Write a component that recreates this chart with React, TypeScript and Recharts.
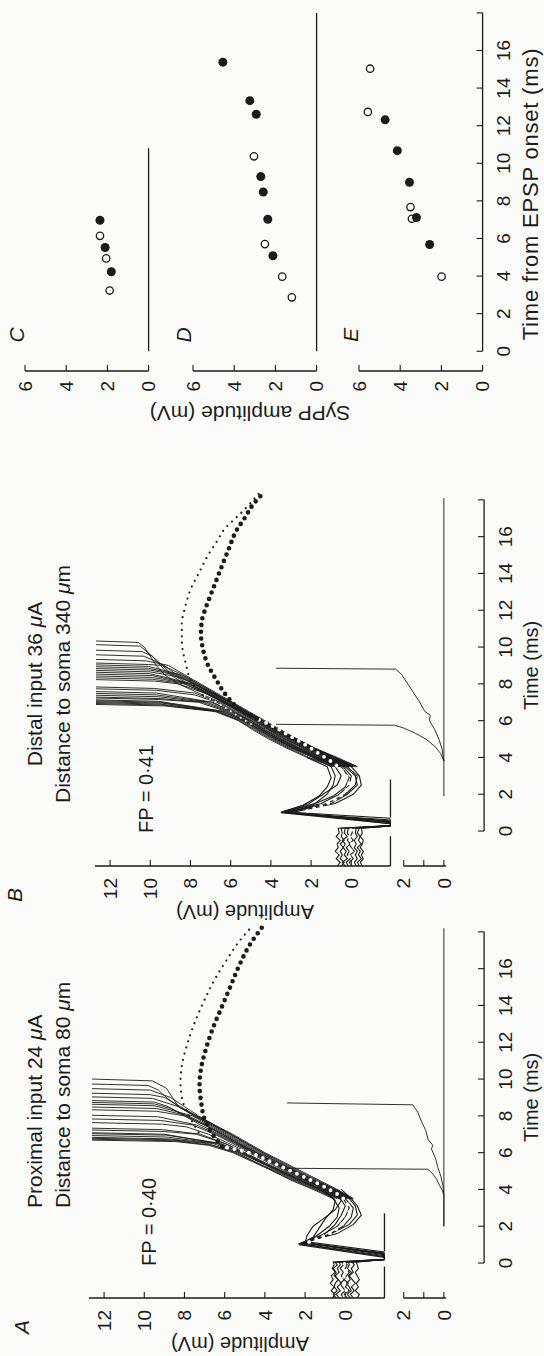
import React from "react";
import { ComposedChart, Line, Scatter, XAxis, YAxis, ReferenceLine } from "recharts";

type Pt = [number, number];

// ---------- A: proximal input ----------
const A_EARLY: Pt[][] = [
  [[-1.9,0.3],[-1.7,0.45],[-1.5,0.25],[-1.3,0.4],[-1.1,0.2],[-0.9,0.35],[-0.7,0.5],[-0.5,0.3],[-0.3,0.4],[-0.1,0.25],[0.05,0.3],[0.18,-1.95],[0.35,-1.95],[1.05,2.3],[1.5,1.2],[2,0.4],[2.5,0],[3,-0.2],[3.5,0.1],[4,0.9]],
  [[-1.9,-0.4],[-1.7,-0.25],[-1.5,-0.45],[-1.3,-0.3],[-1.1,-0.5],[-0.9,-0.35],[-0.7,-0.2],[-0.5,-0.4],[-0.3,-0.3],[-0.1,-0.45],[0.05,-0.35],[0.2,-1.95],[0.45,-1.95],[1.1,2.1],[1.5,1.4],[2,0.8],[2.5,0.4],[3,0.3],[3.5,0.6],[4,1.3]],
  [[-1.9,0.65],[-1.7,0.5],[-1.5,0.7],[-1.3,0.55],[-1.1,0.75],[-0.9,0.6],[-0.7,0.7],[-0.5,0.5],[-0.3,0.65],[-0.1,0.55],[0.05,0.6],[0.2,-1.95],[0.5,-1.95],[1.1,2],[1.6,0.7],[2.1,-0.2],[2.6,-0.6],[3.1,-0.5],[3.5,-0.2],[4,0.4]],
  [[-1.9,-0.1],[-1.7,0.05],[-1.5,-0.2],[-1.3,0],[-1.1,-0.15],[-0.9,0.05],[-0.7,-0.05],[-0.5,-0.2],[-0.3,0],[-0.1,-0.1],[0.05,0],[0.18,-1.95],[0.6,-1.95],[1.15,1.9],[1.6,1],[2.1,0.5],[2.6,0.2],[3.1,0],[3.6,0.3],[4,0.8]],
  [[-1.9,0.1],[-1.7,0.2],[-1.5,0],[-1.3,0.15],[-1.1,0.25],[-0.9,0.05],[-0.7,0.2],[-0.5,0.1],[-0.3,0.25],[-0.1,0.1],[0.05,0.15],[0.2,-1.95],[0.4,-1.95],[1.05,2.2],[1.4,1.6],[1.9,1.3],[2.4,1],[2.9,0.6],[3.4,0.5],[4,1.1]],
  [[-1.9,-0.6],[-1.7,-0.7],[-1.5,-0.5],[-1.3,-0.65],[-1.1,-0.55],[-0.9,-0.7],[-0.7,-0.6],[-0.5,-0.5],[-0.3,-0.65],[-0.1,-0.6],[0.05,-0.55],[0.2,-1.95],[0.55,-1.95],[1.1,2.2],[1.6,0.4],[2.1,-0.4],[2.6,-0.8],[3.1,-0.6],[3.5,-0.3],[4,0.2]],
  [[-1.9,0.45],[-1.7,0.6],[-1.5,0.4],[-1.3,0.55],[-1.1,0.5],[-0.9,0.35],[-0.7,0.55],[-0.5,0.45],[-0.3,0.6],[-0.1,0.4],[0.05,0.5],[0.2,-1.95],[0.5,-1.95],[1.1,2],[1.5,1.9],[2,1.6],[2.4,1.1],[2.9,0.5],[3.4,0.2],[4,0.7]],
  [[-1.9,-0.25],[-1.7,-0.1],[-1.5,-0.3],[-1.3,-0.2],[-1.1,-0.05],[-0.9,-0.25],[-0.7,-0.15],[-0.5,-0.3],[-0.3,-0.1],[-0.1,-0.2],[0.05,-0.15],[0.18,-1.95],[0.3,-1.95],[1,2.3],[1.5,0.9],[2,0.1],[2.5,-0.3],[3,-0.4],[3.5,0],[4,0.6]],
];

const A_LATE: Pt[][] = [
  [[3.5,0.5],[4,1.5],[4.5,2.6],[5,3.6],[5.5,4.6],[6,5.6],[6.4,6.8],[6.6,8.4],[6.68,12.6]],
  [[3.5,0.3],[4,1.4],[4.5,2.5],[5,3.5],[5.5,4.5],[6,5.5],[6.4,6.6],[6.65,8.6],[6.73,12.6]],
  [[3.5,0.6],[4,1.6],[4.5,2.7],[5,3.6],[5.5,4.5],[6,5.4],[6.5,6.9],[6.7,8.7],[6.78,12.6]],
  [[3.5,0.2],[4,1.2],[4.5,2.3],[5,3.3],[5.5,4.3],[6,5.3],[6.5,6.6],[6.75,8.8],[6.83,12.6]],
  [[3.5,0.4],[4,1.3],[4.5,2.4],[5,3.4],[5.5,4.3],[6,5.2],[6.5,6.4],[6.85,8.9],[6.93,12.6]],
  [[3.5,0.1],[4,1.1],[4.5,2.2],[5,3.2],[5.5,4.2],[6,5.1],[6.5,6.2],[6.95,8.9],[7.03,12.6]],
  [[3.5,0.3],[4,1.3],[4.5,2.3],[5,3.3],[5.5,4.2],[6,5.2],[6.5,6.3],[7,9],[7.08,12.6]],
  [[3.5,0],[4,1],[4.5,2.1],[5,3.1],[5.5,4.1],[6,5],[6.5,6],[7,7.4],[7.15,9],[7.23,12.6]],
  [[3.5,0.2],[4,1.2],[4.5,2.2],[5,3.2],[5.5,4.1],[6,5],[6.5,6],[7,7.2],[7.25,9.1],[7.33,12.6]],
  [[3.5,-0.1],[4,0.9],[4.5,2],[5,3],[5.5,3.9],[6,4.8],[6.5,5.8],[7,6.8],[7.4,7.9],[7.55,9.1],[7.63,12.6]],
  [[3.5,0.1],[4,1],[4.5,2],[5,2.9],[5.5,3.8],[6,4.7],[6.5,5.6],[7,6.5],[7.5,7.6],[7.75,9.2],[7.83,12.6]],
  [[3.5,-0.2],[4,0.7],[4.5,1.8],[5,2.8],[5.5,3.7],[6,4.6],[6.5,5.5],[7,6.4],[7.5,7.4],[7.95,9.3],[8.03,12.6]],
  [[3.5,0],[4,0.9],[4.5,1.9],[5,2.8],[5.5,3.7],[6,4.6],[6.5,5.4],[7,6.2],[7.5,7],[8,8],[8.25,9.4],[8.33,12.6]],
  [[3.5,-0.3],[4,0.6],[4.5,1.7],[5,2.6],[5.5,3.6],[6,4.5],[6.5,5.3],[7,6.1],[7.5,6.9],[8,7.8],[8.4,9.4],[8.48,12.6]],
  [[3.5,0.1],[4,1],[4.5,1.9],[5,2.8],[5.5,3.6],[6,4.4],[6.5,5.2],[7,6],[7.5,6.8],[8,7.6],[8.55,9.5],[8.63,12.6]],
  [[3.5,-0.2],[4,0.7],[4.5,1.6],[5,2.6],[5.5,3.5],[6,4.4],[6.5,5.3],[7,6.1],[7.5,7],[8,7.9],[8.4,8.7],[8.65,9.5],[8.73,12.6]],
  [[3.5,0],[4,0.8],[4.5,1.8],[5,2.7],[5.5,3.6],[6,4.5],[6.5,5.4],[7,6.3],[7.5,7.2],[8,8],[8.5,8.8],[8.75,9.5],[8.83,12.6]],
  [[3.5,-0.4],[4,0.5],[4.5,1.5],[5,2.5],[5.5,3.4],[6,4.3],[6.5,5.1],[7,5.9],[7.5,6.7],[8,7.5],[8.5,8.3],[8.95,9.6],[9.03,12.6]],
  [[3.5,-0.1],[4,0.7],[4.5,1.6],[5,2.5],[5.5,3.4],[6,4.2],[6.5,5],[7,5.8],[7.5,6.6],[8,7.4],[8.5,8.2],[9,9],[9.15,9.7],[9.23,12.6]],
  [[3.5,-0.3],[4,0.5],[4.5,1.4],[5,2.3],[5.5,3.2],[6,4.1],[6.5,4.9],[7,5.7],[7.5,6.5],[8,7.3],[8.5,8],[9,8.7],[9.4,9.7],[9.48,12.6]],
  [[3.5,-0.2],[4,0.6],[4.5,1.5],[5,2.4],[5.5,3.3],[6,4.1],[6.5,4.9],[7,5.7],[7.5,6.6],[8,7.5],[8.5,8.3],[9,8.9],[9.4,9.3],[9.65,9.8],[9.73,12.6]],
  [[3.5,-0.4],[4,0.4],[4.5,1.3],[5,2.2],[5.5,3.1],[6,4],[6.5,4.8],[7,5.6],[7.5,6.5],[8,7.4],[8.5,8.3],[9,8.6],[9.5,8.9],[9.9,9.6],[10,12.6]],
];

const A_MEAN_BASE: Pt[] = [[-1.85,0.05],[-1.4,-0.05],[-0.9,0.1],[-0.4,-0.05],[0,0.05]];
const A_MEAN_EARLY: Pt[] = [[1.15,1.8],[1.6,0.8],[2.2,0.1],[2.8,-0.2],[3.4,0],[4,0.8],[4.5,1.7],[5,2.7],[5.5,3.7],[6,4.8],[6.33,6.1]];
const A_MEAN_LATE: Pt[] = [[6.33,6.13],[7.07,6.65],[7.81,7],[8.74,7.17],[9.67,7.25],[10.6,7.17],[11.72,6.91],[12.84,6.56],[13.95,6.13],[15.07,5.7],[16.19,5.27],[17.3,4.75],[18.23,4.15]];
const A_SMALL: Pt[] = [[7.1,7.3],[8,7.77],[8.93,8.12],[9.86,8.2],[10.79,8.12],[11.9,7.86],[13.02,7.51],[14.33,6.99],[15.44,6.48],[16.37,5.96],[17.49,5.27],[18.23,4.7]];
const A_LOWER: Pt[][] = [
  [[2,0],[3.7,0],[4.2,0.05],[4.7,0.15],[5.2,0.3],[5.7,0.42],[6.2,0.62],[6.4,0.55],[6.7,0.78],[7.2,0.9],[7.7,1.12],[8.2,1.3],[8.6,1.55],[8.7,7.8]],
  [[3.7,0],[4,0.1],[4.3,0.25],[4.6,0.38],[4.9,0.6],[5.1,0.8],[5.15,7.8]],
];
const A_LOWER_BASE: Pt[] = [[2,0],[18.2,0]];
const A_STIM: Pt[] = [[-1.9,-0.19],[0.65,2.7]];

// ---------- B: distal input ----------
const B_EARLY: Pt[][] = [
  [[-1.9,0.3],[-1.7,0.45],[-1.5,0.2],[-1.3,0.35],[-1.1,0.25],[-0.9,0.4],[-0.7,0.3],[-0.5,0.45],[-0.3,0.2],[-0.1,0.35],[0.15,0.3],[0.28,-1.95],[0.4,-1.95],[1,3.5],[1.4,2],[1.9,0.9],[2.4,0.3],[2.9,0.1],[3.5,0.5],[4,1.5]],
  [[-1.9,-0.4],[-1.7,-0.3],[-1.5,-0.5],[-1.3,-0.35],[-1.1,-0.45],[-0.9,-0.3],[-0.7,-0.5],[-0.5,-0.35],[-0.3,-0.45],[-0.1,-0.3],[0.15,-0.4],[0.28,-1.95],[0.5,-1.95],[1.02,3.3],[1.5,1.2],[2,0.3],[2.5,-0.2],[3,-0.3],[3.5,0.2],[4,1.1]],
  [[-1.9,0.7],[-1.7,0.55],[-1.5,0.75],[-1.3,0.6],[-1.1,0.8],[-0.9,0.65],[-0.7,0.7],[-0.5,0.55],[-0.3,0.75],[-0.1,0.6],[0.15,0.65],[0.3,-1.95],[0.7,-1.95],[1.05,3.4],[1.5,1.8],[2,1.2],[2.5,0.9],[3,0.8],[3.5,1],[4,1.9]],
  [[-1.9,-0.05],[-1.7,0.1],[-1.5,-0.1],[-1.3,0.05],[-1.1,-0.15],[-0.9,0],[-0.7,0.1],[-0.5,-0.1],[-0.3,0.05],[-0.1,-0.05],[0.15,0],[0.28,-1.95],[0.45,-1.95],[1,3.2],[1.5,1.5],[2,0.6],[2.5,0.1],[3,0],[3.5,0.4],[4,1.4]],
  [[-1.9,0.15],[-1.7,0.25],[-1.5,0.05],[-1.3,0.2],[-1.1,0.1],[-0.9,0.25],[-0.7,0.05],[-0.5,0.2],[-0.3,0.1],[-0.1,0.2],[0.15,0.15],[0.3,-1.95],[0.6,-1.95],[1.02,3.5],[1.4,2.4],[1.9,1.6],[2.4,1.2],[2.9,1],[3.5,1.2],[4,2.2]],
  [[-1.9,-0.55],[-1.7,-0.45],[-1.5,-0.6],[-1.3,-0.5],[-1.1,-0.6],[-0.9,-0.45],[-0.7,-0.55],[-0.5,-0.6],[-0.3,-0.45],[-0.1,-0.55],[0.15,-0.5],[0.28,-1.95],[0.5,-1.95],[1,3],[1.5,0.8],[2,-0.1],[2.5,-0.5],[3,-0.4],[3.5,0],[4,0.8]],
  [[-1.9,0.5],[-1.7,0.35],[-1.5,0.55],[-1.3,0.45],[-1.1,0.55],[-0.9,0.4],[-0.7,0.55],[-0.5,0.35],[-0.3,0.5],[-0.1,0.45],[0.15,0.5],[0.28,-1.95],[0.4,-1.95],[1.05,3.4],[1.5,2.1],[2,1.4],[2.5,0.7],[3,0.5],[3.5,0.8],[4,1.7]],
  [[-1.9,-0.25],[-1.7,-0.15],[-1.5,-0.3],[-1.3,-0.2],[-1.1,-0.3],[-0.9,-0.15],[-0.7,-0.25],[-0.5,-0.15],[-0.3,-0.3],[-0.1,-0.2],[0.15,-0.25],[0.3,-1.95],[0.55,-1.95],[1,3.3],[1.5,1],[2,0.2],[2.5,-0.3],[3,-0.2],[3.5,0.3],[4,1.2]],
];

const B_LATE: Pt[][] = [
  [[3.5,0.8],[4,2.1],[4.5,3.1],[5,4],[5.5,4.8],[6,5.6],[6.5,6.8],[6.8,9.3],[6.88,12.7]],
  [[3.5,0.6],[4,1.9],[4.5,3],[5,3.9],[5.5,4.7],[6,5.5],[6.5,6.7],[6.85,9.4],[6.93,12.7]],
  [[3.5,0.9],[4,2.2],[4.5,3.2],[5,4.1],[5.5,4.9],[6,5.6],[6.5,6.6],[6.9,9.5],[6.98,12.7]],
  [[3.5,0.4],[4,1.7],[4.5,2.8],[5,3.8],[5.5,4.6],[6,5.4],[6.5,6.5],[6.95,9.4],[7.03,12.7]],
  [[3.5,0.7],[4,1.9],[4.5,2.9],[5,3.8],[5.5,4.6],[6,5.4],[6.5,6.4],[7,9.5],[7.08,12.7]],
  [[3.5,0.5],[4,1.8],[4.5,2.8],[5,3.7],[5.5,4.5],[6,5.3],[6.5,6.3],[7.05,9.6],[7.13,12.7]],
  [[3.5,0.3],[4,1.6],[4.5,2.7],[5,3.6],[5.5,4.5],[6,5.3],[6.5,6.2],[7,7.6],[7.15,9.6],[7.23,12.7]],
  [[3.5,0.6],[4,1.8],[4.5,2.9],[5,3.7],[5.5,4.4],[6,5.2],[6.5,6.1],[7,7.4],[7.2,9.5],[7.28,12.7]],
  [[3.5,0.2],[4,1.5],[4.5,2.6],[5,3.5],[5.5,4.3],[6,5.1],[6.5,6],[7,7.2],[7.3,9.6],[7.38,12.7]],
  [[3.5,0.5],[4,1.7],[4.5,2.7],[5,3.6],[5.5,4.4],[6,5.1],[6.5,5.9],[7,7],[7.4,9.7],[7.48,12.7]],
  [[3.5,0.1],[4,1.4],[4.5,2.5],[5,3.4],[5.5,4.2],[6,5],[6.5,5.9],[7,6.9],[7.5,9.7],[7.58,12.7]],
  [[3.5,0.4],[4,1.5],[4.5,2.6],[5,3.5],[5.5,4.3],[6,5],[6.5,5.8],[7,6.7],[7.4,7.8],[7.65,9.7],[7.73,12.7]],
  [[3.5,0],[4,1.2],[4.5,2.3],[5,3.3],[5.5,4.1],[6,4.9],[6.5,5.7],[7,6.6],[7.5,7.8],[7.75,9.8],[7.83,12.7]],
  [[3.5,0.3],[4,1.4],[4.5,2.4],[5,3.3],[5.5,4.1],[6,4.8],[6.5,5.6],[7,6.4],[7.5,7.3],[8,8.6],[8.15,9.8],[8.23,12.7]],
  [[3.5,-0.1],[4,1.1],[4.5,2.2],[5,3.1],[5.5,4],[6,4.8],[6.5,5.6],[7,6.4],[7.5,7.2],[8,8.3],[8.25,9.9],[8.33,12.7]],
  [[3.5,0.2],[4,1.3],[4.5,2.3],[5,3.2],[5.5,4],[6,4.7],[6.5,5.5],[7,6.3],[7.5,7.1],[8,8.1],[8.35,9.9],[8.43,12.7]],
  [[3.5,0],[4,1],[4.5,2.1],[5,3],[5.5,3.9],[6,4.7],[6.5,5.5],[7,6.3],[7.5,7.1],[8,8],[8.45,9.9],[8.53,12.7]],
  [[3.5,0.3],[4,1.2],[4.5,2.2],[5,3.1],[5.5,3.9],[6,4.6],[6.5,5.4],[7,6.2],[7.5,7],[8,7.9],[8.55,10],[8.63,12.7]],
  [[3.5,-0.2],[4,0.9],[4.5,2],[5,2.9],[5.5,3.8],[6,4.6],[6.5,5.4],[7,6.2],[7.5,7],[8,7.8],[8.4,8.7],[8.65,10],[8.73,12.7]],
  [[3.5,0.1],[4,1.1],[4.5,2.1],[5,3],[5.5,3.8],[6,4.5],[6.5,5.3],[7,6.1],[7.5,6.9],[8,7.8],[8.5,8.8],[8.75,10],[8.83,12.7]],
  [[3.5,-0.3],[4,0.8],[4.5,1.9],[5,2.8],[5.5,3.7],[6,4.5],[6.5,5.3],[7,6.1],[7.5,6.9],[8,7.7],[8.5,8.6],[8.85,10.1],[8.93,12.7]],
  [[3.5,0],[4,1],[4.5,2],[5,2.9],[5.5,3.7],[6,4.4],[6.5,5.2],[7,6],[7.5,6.8],[8,7.6],[8.5,8.5],[8.95,10.1],[9.03,12.7]],
  [[3.5,-0.2],[4,0.9],[4.5,1.9],[5,2.8],[5.5,3.6],[6,4.4],[6.5,5.2],[7,6],[7.5,6.8],[8,7.6],[8.5,8.4],[9,9.4],[9.05,10.1],[9.13,12.7]],
  [[3.5,0.1],[4,1],[4.5,1.9],[5,2.7],[5.5,3.5],[6,4.3],[6.5,5.1],[7,5.9],[7.5,6.7],[8,7.5],[8.5,8.3],[9,9.1],[9.25,10.2],[9.33,12.7]],
  [[3.5,-0.3],[4,0.7],[4.5,1.8],[5,2.7],[5.5,3.6],[6,4.4],[6.5,5.2],[7,6],[7.5,6.9],[8,7.8],[8.5,8.7],[9,9.3],[9.5,10.3],[9.58,12.7]],
  [[3.5,0],[4,0.9],[4.5,1.9],[5,2.8],[5.5,3.7],[6,4.5],[6.5,5.4],[7,6.3],[7.5,7.2],[8,8.1],[8.5,8.9],[9,9.4],[9.5,9.9],[9.75,10.4],[9.83,12.7]],
  [[3.5,-0.1],[4,0.8],[4.5,1.8],[5,2.7],[5.5,3.6],[6,4.5],[6.5,5.4],[7,6.3],[7.5,7.3],[8,8.3],[8.5,9],[9,9.5],[9.5,9.9],[10.05,10.5],[10.13,12.7]],
  [[3.5,0.2],[4,1.1],[4.5,2],[5,2.9],[5.5,3.8],[6,4.6],[6.5,5.5],[7,6.5],[7.5,7.6],[8,8.6],[8.5,9.3],[9,9.7],[9.5,10],[10,10.3],[10.25,10.6],[10.33,12.7]],
];

const B_MEAN_BASE: Pt[] = [[-1.75,-0.05],[-1.3,0.1],[-0.8,-0.05],[-0.3,0.1],[0.1,0]];
const B_MEAN_EARLY: Pt[] = [[1.1,2.2],[1.6,1],[2.1,0.35],[2.6,0.1],[3.2,0.4],[3.7,0.9],[4.2,1.6],[4.7,2.3],[5.2,3.1],[5.7,3.9],[6.1,4.7]];
const B_MEAN_LATE: Pt[] = [[6.1,4.7],[6.5,5.4],[7.35,6.2],[8.28,6.75],[9.02,7.13],[9.95,7.39],[10.7,7.48],[11.44,7.43],[12.19,7.22],[12.93,6.96],[13.67,6.7],[14.42,6.43],[15.35,6.09],[16.28,5.74],[17.02,5.3],[17.77,4.87],[18.33,4.4]];
const B_SMALL_EARLY: Pt[] = [[5.8,5],[6.3,5.7],[6.8,6.4],[7.4,7.4]];
const B_SMALL: Pt[] = [[7.4,7.4],[7.91,7.83],[9.21,8.26],[10.33,8.43],[11.26,8.43],[12.19,8.26],[13.12,8],[14.05,7.57],[14.98,7.13],[15.72,6.7],[16.47,6.26],[17.02,5.74],[17.58,5.22],[18.33,4.61]];
const B_LOWER: Pt[][] = [
  [[3.8,0],[4.5,0.1],[5,0.25],[5.5,0.45],[6,0.72],[6.3,0.68],[6.5,0.95],[7,1.2],[7.5,1.5],[8,1.8],[8.5,2.1],[8.8,2.4],[8.85,8.35]],
  [[3.8,0],[4.2,0.15],[4.6,0.45],[5,0.9],[5.3,1.4],[5.6,2],[5.75,2.45],[5.8,8.35]],
];
const B_LOWER_BASE: Pt[] = [[1.9,0],[18.1,0]];
const B_STIM: Pt[] = [[-1.9,-0.28],[0.74,2.8]];

// ---------- C, D, E: SyPP amplitude vs time from EPSP onset ----------
const C_FILLED: Pt[] = [[6.97,2.36],[5.52,2.11],[4.23,1.81]];
const C_OPEN: Pt[] = [[6.14,2.36],[4.94,2.06],[3.23,1.89]];
const D_FILLED: Pt[] = [[15.38,4.55],[13.33,3.24],[12.61,2.93],[9.29,2.71],[8.47,2.59],[7.02,2.37],[5.08,2.12]];
const D_OPEN: Pt[] = [[10.37,3.04],[5.7,2.51],[3.97,1.67],[2.87,1.2]];
const E_FILLED: Pt[] = [[12.31,4.73],[10.67,4.14],[8.99,3.55],[7.11,3.21],[5.68,2.57]];
const E_OPEN: Pt[] = [[15.03,5.46],[12.73,5.57],[7.67,3.5],[7.05,3.43],[3.97,1.99]];

const TIME_TICKS = [0, 2, 4, 6, 8, 10, 12, 14, 16, 18];
const C_TIME_TICKS = [0, 2, 4, 6, 8, 10];
const AMP_TICKS = [0, 2, 4, 6, 8, 10, 12];
const LOWER_TICKS = [0, 1, 2];
const SYPP_TICKS = [0, 2, 4, 6];

const FONT = "'Liberation Sans', Arial, Helvetica, sans-serif";
const INK = "#1b1b1b";
const PAPER = "#fbfbfa";
const PX_MS = 18.4;
const PX_MV = 20.1;
const AX = 58;
const BX = 490;
const LOW_ZERO = 444;

const rows = (pts: Pt[]) => pts.map(([t, a]) => ({ t, a }));
const tickStyle = { fill: INK, fontSize: 19, fontFamily: FONT };

function TracePanel(props: {
  ax: number; amp12: number; early: Pt[][]; late: Pt[][];
  meanBase: Pt[]; meanEarly: Pt[]; meanLate: Pt[]; smallEarly?: Pt[]; small: Pt[];
  lower: Pt[][]; lowerBase: Pt[]; stim: Pt[];
}) {
  const { ax, amp12 } = props;
  const yW = 44;
  const xDom: [number, number] = [-1.9, 18.6];
  const w = (xDom[1] - xDom[0]) * PX_MS;
  const mainTop = amp12 - 0.75 * PX_MV;
  const mainH = 14.7 * PX_MV;
  const lowTop = LOW_ZERO - 9 * PX_MV;
  const lowH = 11 * PX_MV;
  const thin = { stroke: INK, strokeWidth: 0.9, dot: false, isAnimationActive: false, type: "linear" as const };
  const heavy = { ...thin, strokeWidth: 1.1 };
  const dots = (width: number, gap: number, color: string) => ({
    stroke: color, strokeWidth: width, strokeDasharray: `0 ${gap}`, strokeLinecap: "round" as const,
    dot: false, isAnimationActive: false, type: "monotone" as const,
  });
  return (
    <>
      <div style={{ position: "absolute", left: ax - yW, top: mainTop }}>
        <ComposedChart width={yW + w} height={mainH} margin={{ top: 0, right: 0, bottom: 0, left: 0 }}>
          <XAxis type="number" dataKey="t" domain={xDom} allowDataOverflow hide />
          <YAxis type="number" domain={[-1.95, 12.75]} allowDataOverflow ticks={AMP_TICKS} interval={0}
            width={yW} tickSize={-6} tickMargin={18} tick={tickStyle}
            axisLine={{ stroke: INK, strokeWidth: 1.3 }} tickLine={{ stroke: INK, strokeWidth: 1.1 }} />
          {props.stim.map(([t1, t2], i) => (
            <ReferenceLine key={`s${i}`} segment={[{ x: t1, y: -1.95 }, { x: t2, y: -1.95 }]}
              stroke={INK} strokeWidth={1.3} ifOverflow="visible" />
          ))}
          {props.early.map((tr, i) => <Line key={`e${i}`} data={rows(tr)} dataKey="a" {...heavy} />)}
          {props.late.map((tr, i) => <Line key={`l${i}`} data={rows(tr)} dataKey="a" {...thin} />)}
          <Line data={rows(props.meanBase)} dataKey="a" {...dots(3.6, 7, "#ffffff")} />
          <Line data={rows(props.meanEarly)} dataKey="a" {...dots(3.8, 7.5, "#ffffff")} />
          {props.smallEarly && <Line data={rows(props.smallEarly)} dataKey="a" {...dots(2, 6, "#ffffff")} />}
          <Line data={rows(props.meanLate)} dataKey="a" {...dots(4.6, 6.8, INK)} />
          <Line data={rows(props.small)} dataKey="a" {...dots(2.2, 6.4, INK)} />
        </ComposedChart>
      </div>
      <div style={{ position: "absolute", left: ax - yW, top: lowTop }}>
        <ComposedChart width={yW + w} height={lowH + 60} margin={{ top: 0, right: 0, bottom: 0, left: 0 }}>
          <XAxis type="number" dataKey="t" domain={xDom} allowDataOverflow ticks={TIME_TICKS} interval={0}
            height={60} tickSize={-6} tickMargin={20} tick={tickStyle} axisLine={false}
            tickLine={{ stroke: INK, strokeWidth: 1.1 }} tickFormatter={(v: number) => (v === 18 ? "" : String(v))} />
          <YAxis type="number" domain={[-2, 9]} allowDataOverflow ticks={LOWER_TICKS} interval={0}
            width={yW} tickSize={-6} tickMargin={18} tick={tickStyle} axisLine={false}
            tickLine={{ stroke: INK, strokeWidth: 1.1 }} tickFormatter={(v: number) => (v === 1 ? "" : String(v))} />
          <ReferenceLine segment={[{ x: 0, y: -2 }, { x: 18, y: -2 }]} stroke={INK} strokeWidth={1.3} ifOverflow="visible" />
          <ReferenceLine segment={[{ x: -1.9, y: -0.1 }, { x: -1.9, y: 2 }]} stroke={INK} strokeWidth={1.3} ifOverflow="visible" />
          <Line data={rows(props.lowerBase)} dataKey="a" {...thin} />
          {props.lower.map((tr, i) => <Line key={`w${i}`} data={rows(tr)} dataKey="a" {...thin} />)}
        </ComposedChart>
      </div>
    </>
  );
}

const CDE_X0 = 985;
const CDE_PX_MS = 18.8;
const CDE_PX_MV = 20.6;

function SyppPanel(props: { zero: number; filled: Pt[]; open: Pt[]; ticks: number[]; axisEnd: number; labels: boolean }) {
  const yW = 40;
  const xDom: [number, number] = [-1.05, 18.6];
  const w = (xDom[1] - xDom[0]) * CDE_PX_MS;
  const h = 6 * CDE_PX_MV;
  const xH = props.labels ? 60 : 2;
  return (
    <div style={{ position: "absolute", left: CDE_X0 - yW, top: props.zero - h }}>
      <ComposedChart width={yW + w} height={h + xH} margin={{ top: 0, right: 0, bottom: 0, left: 0 }}>
        <XAxis type="number" dataKey="t" domain={xDom} allowDataOverflow ticks={props.ticks} interval={0}
          height={xH} tickSize={-6} tickMargin={20} tick={props.labels ? tickStyle : false} axisLine={false}
          tickLine={{ stroke: INK, strokeWidth: 1.1 }} tickFormatter={(v: number) => (v === 18 ? "" : String(v))} />
        <YAxis type="number" dataKey="a" domain={[0, 6]} allowDataOverflow ticks={SYPP_TICKS} interval={0}
          width={yW} tickSize={-6} tickMargin={16} tick={tickStyle}
          axisLine={{ stroke: INK, strokeWidth: 1.3 }} tickLine={{ stroke: INK, strokeWidth: 1.1 }} />
        <ReferenceLine segment={[{ x: 0, y: 0 }, { x: props.axisEnd, y: 0 }]} stroke={INK} strokeWidth={1.3} ifOverflow="visible" />
        <Scatter data={rows(props.open)} dataKey="a" isAnimationActive={false}
          shape={(p: any) => <circle cx={p.cx} cy={p.cy} r={3.7} fill={PAPER} stroke={INK} strokeWidth={1.3} />} />
        <Scatter data={rows(props.filled)} dataKey="a" isAnimationActive={false}
          shape={(p: any) => <circle cx={p.cx} cy={p.cy} r={4.5} fill={INK} />} />
      </ComposedChart>
    </div>
  );
}

const mu = <tspan fontStyle="italic">μ</tspan>;

export default function App() {
  return (
    <div style={{ width: 544, height: 1356, position: "relative", overflow: "hidden", background: PAPER, fontFamily: FONT }}>
      <style>{`body{margin:0;background:${PAPER}} .recharts-surface{overflow:visible}`}</style>
      <div style={{ position: "absolute", left: 0, top: 0, width: 1356, height: 544, transformOrigin: "0 0", transform: "translate(0px, 1356px) rotate(-90deg)" }}>
        <TracePanel ax={AX} amp12={104} early={A_EARLY} late={A_LATE} meanBase={A_MEAN_BASE} meanEarly={A_MEAN_EARLY}
          meanLate={A_MEAN_LATE} small={A_SMALL} lower={A_LOWER} lowerBase={A_LOWER_BASE} stim={A_STIM} />
        <TracePanel ax={BX} amp12={110} early={B_EARLY} late={B_LATE} meanBase={B_MEAN_BASE} meanEarly={B_MEAN_EARLY}
          meanLate={B_MEAN_LATE} smallEarly={B_SMALL_EARLY} small={B_SMALL} lower={B_LOWER} lowerBase={B_LOWER_BASE} stim={B_STIM} />
        <SyppPanel zero={149} filled={C_FILLED} open={C_OPEN} ticks={C_TIME_TICKS} axisEnd={10.8} labels={false} />
        <SyppPanel zero={317} filled={D_FILLED} open={D_OPEN} ticks={TIME_TICKS} axisEnd={18} labels={false} />
        <SyppPanel zero={483} filled={E_FILLED} open={E_OPEN} ticks={TIME_TICKS} axisEnd={18} labels={true} />
        <svg width={1356} height={544} style={{ position: "absolute", left: 0, top: 0, overflow: "visible", pointerEvents: "none" }}
          fontFamily={FONT} fill={INK}>
          <text x={AX - 29} y={29} fontSize={21} fontStyle="italic" textAnchor="middle">A</text>
          <text x={AX + 90} y={42} fontSize={21}>Proximal input 24 {mu}A</text>
          <text x={AX + 90} y={70} fontSize={21}>Distance to soma 80 {mu}m</text>
          <text x={AX + 32} y={156} fontSize={20}>FP = 0·40</text>
          <text transform={`translate(${AX - 46},240) rotate(-90)`} textAnchor="middle" dominantBaseline="central" fontSize={20}>Amplitude (mV)</text>
          <text x={AX + 35 + 9 * PX_MS} y={538} textAnchor="middle" fontSize={20}>Time (ms)</text>

          <text x={BX - 29} y={22} fontSize={21} fontStyle="italic" textAnchor="middle">B</text>
          <text x={BX + 182} y={42} fontSize={21} textAnchor="middle">Distal input 36 {mu}A</text>
          <text x={BX + 182} y={70} fontSize={21} textAnchor="middle">Distance to soma 340 {mu}m</text>
          <text x={BX + 33} y={153} fontSize={20}>FP = 0·41</text>
          <text transform={`translate(${BX - 46},245) rotate(-90)`} textAnchor="middle" dominantBaseline="central" fontSize={20}>Amplitude (mV)</text>
          <text x={BX + 35 + 9 * PX_MS} y={538} textAnchor="middle" fontSize={20}>Time (ms)</text>

          <text x={1021} y={24} fontSize={21} fontStyle="italic" textAnchor="middle">C</text>
          <text x={1021} y={191} fontSize={21} fontStyle="italic" textAnchor="middle">D</text>
          <text x={1021} y={358} fontSize={21} fontStyle="italic" textAnchor="middle">E</text>
          <text transform="translate(943,250) rotate(-90)" textAnchor="middle" dominantBaseline="central" fontSize={21}>SyPP amplitude (mV)</text>
          <text x={1162} y={538} textAnchor="middle" fontSize={22} letterSpacing={0.8}>Time from EPSP onset (ms)</text>
        </svg>
      </div>
    </div>
  );
}
